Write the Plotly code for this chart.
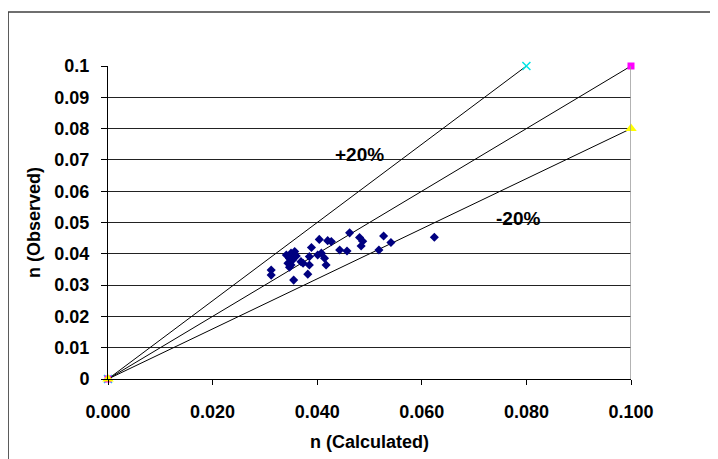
import plotly.graph_objects as go

# Data
calc = [0.0312, 0.0312, 0.0341, 0.0347, 0.0350, 0.0357, 0.0360, 0.0344, 0.0350, 0.0347,
        0.0355, 0.0369, 0.0373, 0.0382, 0.0385, 0.0389, 0.0385, 0.0401, 0.0408, 0.0414,
        0.0417, 0.0404, 0.0420, 0.0427, 0.0443, 0.0457, 0.0462, 0.0481, 0.0487, 0.0484,
        0.0518, 0.0527, 0.0541, 0.0624, 0.0353]
obs = [0.0348, 0.0332, 0.0396, 0.0385, 0.0402, 0.0407, 0.0393, 0.0370, 0.0364, 0.0357,
       0.0316, 0.0375, 0.0370, 0.0335, 0.0391, 0.0420, 0.0364, 0.0396, 0.0402, 0.0386,
       0.0364, 0.0446, 0.0442, 0.0439, 0.0412, 0.0409, 0.0467, 0.0452, 0.0440, 0.0425,
       0.0412, 0.0457, 0.0436, 0.0453, 0.0380]

plus_x = [0.0, 0.08]
plus_y = [0.0, 0.1]
equal_x = [0.0, 0.1]
equal_y = [0.0, 0.1]
minus_x = [0.0, 0.1]
minus_y = [0.0, 0.08]

x_ticks = [0.0, 0.02, 0.04, 0.06, 0.08, 0.1]
y_ticks = [0.0, 0.01, 0.02, 0.03, 0.04, 0.05, 0.06, 0.07, 0.08, 0.09, 0.1]
y_tick_text = ["0", "0.01", "0.02", "0.03", "0.04", "0.05", "0.06", "0.07", "0.08", "0.09", "0.1"]

FONT = "Liberation Sans, Arial, sans-serif"

fig = go.Figure()
fig.add_trace(go.Scatter(x=plus_x, y=plus_y, mode="lines+markers", cliponaxis=False,
                         line=dict(color="black", width=1),
                         marker=dict(symbol="x-thin", size=8, color="#00FFFF",
                                     line=dict(color="#00E5E5", width=1.5))))
fig.add_trace(go.Scatter(x=equal_x, y=equal_y, mode="lines+markers", cliponaxis=False,
                         line=dict(color="black", width=1),
                         marker=dict(symbol="square", size=7, color="#FF00FF")))
fig.add_trace(go.Scatter(x=minus_x, y=minus_y, mode="lines+markers", cliponaxis=False,
                         line=dict(color="black", width=1),
                         marker=dict(symbol="triangle-up", size=10, color="#FFFF00")))
fig.add_trace(go.Scatter(x=calc, y=obs, mode="markers", cliponaxis=False,
                         marker=dict(symbol="diamond", size=7, color="#000080")))

fig.add_annotation(x=0.0481, y=0.0716, text="+20%", showarrow=False,
                   font=dict(family=FONT, size=19, color="black", weight="bold"))
fig.add_annotation(x=0.0783, y=0.0514, text="-20%", showarrow=False,
                   font=dict(family=FONT, size=19, color="black", weight="bold"))

# plot-area right border
fig.add_shape(type="line", xref="x", yref="y", x0=0.1, x1=0.1, y0=0, y1=0.1,
              line=dict(color="#9a9a9a", width=1.5))
# outer chart border
fig.add_shape(type="rect", xref="paper", yref="paper", x0=-0.191, x1=1.25,
              y0=-0.35, y1=1.1725, line=dict(color="#404040", width=1.5))

fig.update_xaxes(range=[0, 0.1], tickvals=x_ticks, tickformat=".3f",
                 showgrid=False, zeroline=False, showline=True, linecolor="black", linewidth=1,
                 ticks="outside", ticklen=5, tickcolor="black", ticklabelstandoff=11,
                 tickfont=dict(family=FONT, size=18, color="black", weight="bold"),
                 title=dict(text="n (Calculated)", standoff=14,
                            font=dict(family=FONT, size=18, color="black", weight="bold")))
fig.update_yaxes(range=[0, 0.1], tickvals=y_ticks, ticktext=y_tick_text,
                 showgrid=True, gridcolor="#222222", gridwidth=1.2,
                 zeroline=False, showline=True, linecolor="black", linewidth=1,
                 ticks="outside", ticklen=6, tickcolor="black", ticklabelstandoff=8,
                 tickfont=dict(family=FONT, size=18, color="black", weight="bold"),
                 title=dict(text="n (Observed)", standoff=9,
                            font=dict(family=FONT, size=18, color="black", weight="bold")))

fig.update_layout(width=718, height=459, showlegend=False,
                  margin=dict(l=100, r=95, t=58, b=88, autoexpand=False),
                  paper_bgcolor="white", plot_bgcolor="white")

fig.write_html("out.html")
